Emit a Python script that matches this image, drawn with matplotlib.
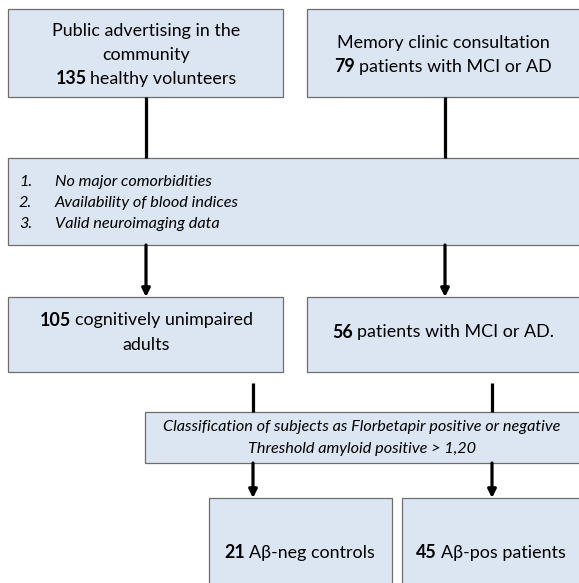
import matplotlib
matplotlib.use("Agg")
import matplotlib.pyplot as plt
from matplotlib.patches import Rectangle

plt.rcParams["font.family"] = ["Lato", "DejaVu Sans"]

# numbers shown in the flowchart
n_volunteers = 135
n_clinic = 79
n_unimpaired = 105
n_patients = 56
n_neg = 21
n_pos = 45

criteria = ["No major comorbidities",
            "Availability of blood indices",
            "Valid neuroimaging data"]
classif_lines = ["Classification of subjects as Florbetapir positive or negative",
                 "Threshold amyloid positive > 1,20"]

FILL = "#dce6f2"
EDGE = "#6e6e6e"
FS = 12.9

fig = plt.figure(figsize=(5.79, 5.83), dpi=100)
ax = fig.add_axes([0, 0, 1, 1])
ax.set_xlim(0, 579)
ax.set_ylim(583, 0)
ax.axis("off")
renderer = fig.canvas.get_renderer()


def box(x0, y0, x1, y1):
    ax.add_patch(Rectangle((x0, y0), x1 - x0, y1 - y0, facecolor=FILL,
                           edgecolor=EDGE, lw=0.9))


def mixed_line(xc, y, parts, size=FS, gap=4):
    # parts: list of (text, weight); centred as one line, gap between parts
    texts = [ax.text(0, y, s, fontsize=size, fontweight=w, va="center", ha="left")
             for s, w in parts]
    widths = [t.get_window_extent(renderer).width for t in texts]
    total = sum(widths) + gap * (len(texts) - 1)
    x = xc - total / 2
    for t, w in zip(texts, widths):
        t.set_x(x)
        x += w + gap


def line(x, y0, y1):
    ax.plot([x, x], [y0, y1], color="black", lw=2.3, solid_capstyle="butt")


def arrow(x, y0, y1):
    ax.annotate("", xy=(x, y1), xytext=(x, y0),
                arrowprops=dict(arrowstyle="-|>", color="black", lw=2.3,
                                mutation_scale=12, shrinkA=0, shrinkB=0))


# top boxes
box(8, 9, 283, 97)
box(307, 9, 600, 97)
mixed_line(146, 31, [("Public advertising in the", "normal")])
mixed_line(146, 55, [("community", "normal")])
mixed_line(146, 79, [(str(n_volunteers), "bold"), ("healthy volunteers", "normal")])
mixed_line(443, 43, [("Memory clinic consultation", "normal")])
mixed_line(443, 67, [(str(n_clinic), "bold"), ("patients with MCI or AD", "normal")])

line(146, 97, 158)
line(445, 97, 158)

# inclusion criteria
box(8, 158, 600, 245)
for i, c in enumerate(criteria):
    y = 182 + i * 21
    ax.text(19, y, f"{i + 1}.", fontsize=11.7, style="italic", va="center")
    ax.text(55, y, c, fontsize=11.7, style="italic", va="center")

arrow(146, 245, 297)
arrow(445, 245, 297)

# second row
box(8, 297, 283, 372)
box(307, 297, 600, 372)
mixed_line(146, 320, [(str(n_unimpaired), "bold"), ("cognitively unimpaired", "normal")])
mixed_line(146, 345, [("adults", "normal")])
mixed_line(443, 332, [(str(n_patients), "bold"), ("patients with MCI or AD.", "normal")])

line(253, 383, 412)
line(492, 383, 412)

# classification
box(145, 412, 600, 463)
for i, s in enumerate(classif_lines):
    ax.text(362, 427 + i * 22, s, fontsize=11.7, style="italic",
            ha="center", va="center")

arrow(253, 463, 498)
arrow(492, 463, 498)

# final groups
box(209, 498, 392, 620)
box(402, 498, 620, 620)
mixed_line(300, 553, [(str(n_neg), "bold"), ("A\u03b2-neg controls", "normal")])
mixed_line(491, 553, [(str(n_pos), "bold"), ("A\u03b2-pos patients", "normal")])

fig.savefig("out.png", dpi=100)
